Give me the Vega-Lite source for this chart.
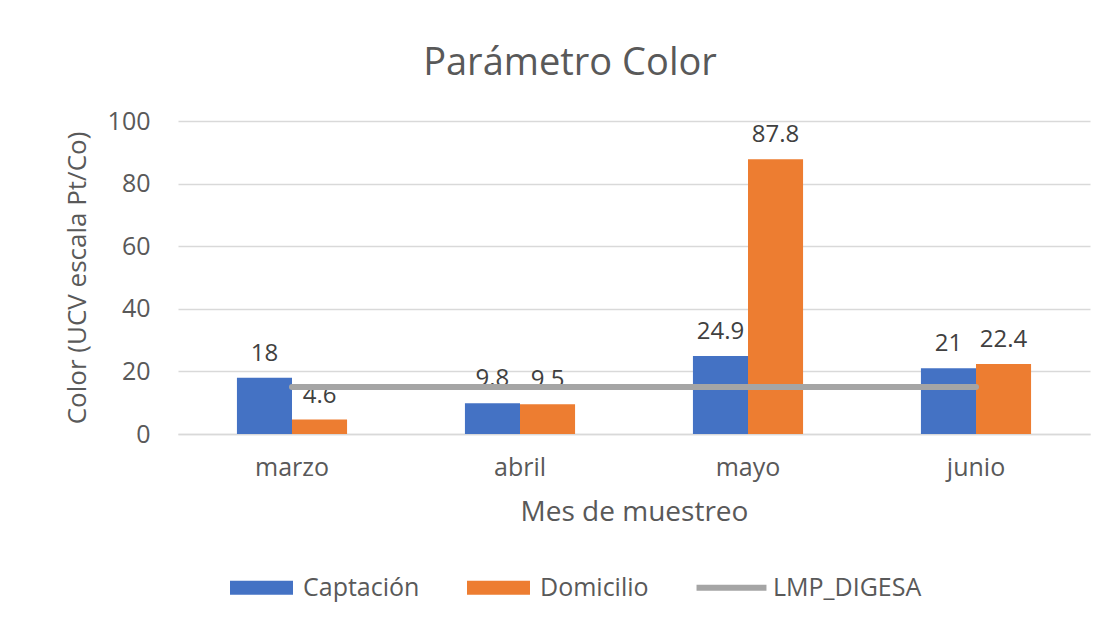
{
  "$schema": "https://vega.github.io/schema/vega-lite/v6.json",
  "width": 912,
  "height": 313,
  "autosize": {"type": "none"},
  "padding": {"left": 178, "top": 121, "right": 25, "bottom": 186},
  "background": "white",
  "config": {
    "font": "Open Sans",
    "view": {"stroke": null}
  },
  "title": {
    "text": "Parámetro Color",
    "fontSize": 38,
    "fontWeight": "normal",
    "color": "#595959",
    "anchor": "middle",
    "dx": -64,
    "offset": 26
  },
  "data": {
    "values": [
      {"mes": "marzo", "serie": "Captación", "valor": 18},
      {"mes": "marzo", "serie": "Domicilio", "valor": 4.6},
      {"mes": "abril", "serie": "Captación", "valor": 9.8},
      {"mes": "abril", "serie": "Domicilio", "valor": 9.5},
      {"mes": "mayo", "serie": "Captación", "valor": 24.9},
      {"mes": "mayo", "serie": "Domicilio", "valor": 87.8},
      {"mes": "junio", "serie": "Captación", "valor": 21},
      {"mes": "junio", "serie": "Domicilio", "valor": 22.4},
      {"mes": "marzo", "serie": "LMP_DIGESA", "valor": 15},
      {"mes": "abril", "serie": "LMP_DIGESA", "valor": 15},
      {"mes": "mayo", "serie": "LMP_DIGESA", "valor": 15},
      {"mes": "junio", "serie": "LMP_DIGESA", "valor": 15}
    ]
  },
  "encoding": {
    "x": {
      "field": "mes",
      "type": "nominal",
      "sort": ["marzo", "abril", "mayo", "junio"],
      "scale": {"paddingInner": 0.517, "paddingOuter": 0.2585},
      "axis": {
        "title": "Mes de muestreo",
        "titleFontSize": 28,
        "titleFontWeight": "normal",
        "titleColor": "#595959",
        "titlePadding": 18,
        "labelFontSize": 25,
        "labelColor": "#595959",
        "labelAngle": 0,
        "labelPadding": 21,
        "ticks": false,
        "domainColor": "#D9D9D9",
        "domainWidth": 1.5
      }
    },
    "y": {
      "field": "valor",
      "type": "quantitative",
      "scale": {"domain": [0, 100]},
      "axis": {
        "title": "Color (UCV escala Pt/Co)",
        "titleFontSize": 26,
        "titleFontWeight": "normal",
        "titleColor": "#595959",
        "titlePadding": 17,
        "labelFontSize": 25,
        "labelColor": "#595959",
        "labelPadding": 28,
        "values": [0, 20, 40, 60, 80, 100],
        "ticks": false,
        "domain": false,
        "gridColor": "#D9D9D9",
        "gridWidth": 1.5
      }
    }
  },
  "layer": [
    {
      "transform": [{"filter": "datum.serie !== 'LMP_DIGESA'"}],
      "mark": {"type": "bar"},
      "encoding": {
        "xOffset": {"field": "serie", "type": "nominal", "scale": {"domain": ["Captación", "Domicilio"], "paddingInner": 0, "paddingOuter": 0}},
        "color": {
          "field": "serie",
          "type": "nominal",
          "scale": {"domain": ["Captación", "Domicilio", "LMP_DIGESA"], "range": ["#4472C4", "#ED7D31", "#A5A5A5"]},
          "legend": {
            "title": null,
            "orient": "none",
            "legendX": 52,
            "legendY": 435,
            "direction": "horizontal",
            "labelFontSize": 25,
            "labelColor": "#595959",
            "labelOffset": 10,
            "columnPadding": 47,
            "symbolSize": 3969,
            "symbolStrokeWidth": 0,
            "symbolType": "M-1,-0.222H1V0.222H-1Z",
            "encode": {
              "symbols": {
                "update": {
                  "shape": {"signal": "datum.value === 'LMP_DIGESA' ? 'M-1.11,-0.095H1.11V0.095H-1.11Z' : 'M-1,-0.222H1V0.222H-1Z'"}
                }
              }
            }
          }
        }
      }
    },
    {
      "transform": [{"filter": "datum.serie !== 'LMP_DIGESA'"}],
      "mark": {"type": "text", "baseline": "alphabetic", "dy": -17, "fontSize": 24, "color": "#404040"},
      "encoding": {
        "xOffset": {"field": "serie", "type": "nominal", "scale": {"domain": ["Captación", "Domicilio"], "paddingInner": 0, "paddingOuter": 0}},
        "text": {"field": "valor", "type": "quantitative"}
      }
    },
    {
      "transform": [{"filter": "datum.serie === 'LMP_DIGESA'"}],
      "mark": {"type": "line", "strokeWidth": 6, "strokeCap": "round"},
      "encoding": {
        "color": {"field": "serie", "type": "nominal"}
      }
    }
  ]
}
